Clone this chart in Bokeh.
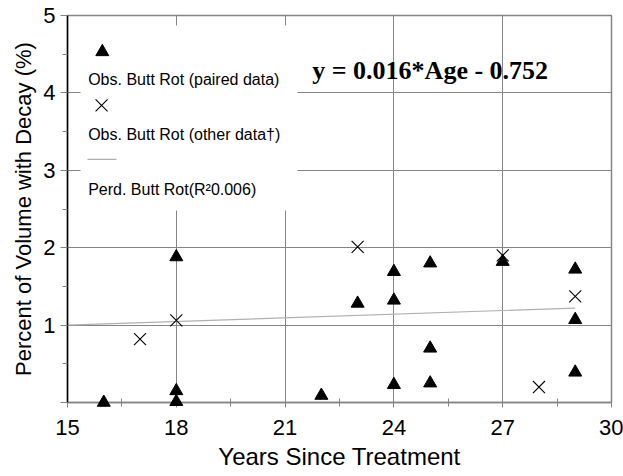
from bokeh.plotting import figure
from bokeh.models import Label, BoxAnnotation, FixedTicker, Range1d, Title
from bokeh.embed import file_html
from bokeh.resources import INLINE

# Observed butt rot, paired data (triangles)
paired_years = [16, 18, 18, 18, 22, 23, 24, 24, 24, 25, 25, 25, 27, 29, 29, 29]
paired_decay = [0.0, 1.88, 0.15, 0.01, 0.09, 1.28, 1.69, 1.32, 0.23, 1.80, 0.70, 0.25, 1.82, 1.72, 1.07, 0.39]

# Observed butt rot, other data (crosses)
other_years = [17, 18, 23, 27, 28, 29]
other_decay = [0.82, 1.06, 2.01, 1.90, 0.20, 1.37]

# Predicted butt rot line
fit_years = [15, 29]
fit_decay = [1.0, 1.22]

x_ticks = [15, 18, 21, 24, 27, 30]
y_ticks = [0, 1, 2, 3, 4, 5]

SANS = "Liberation Sans"
SERIF = "Liberation Serif"
GREY = "#858585"

p = figure(width=623, height=476, output_backend="svg", toolbar_location=None,
           x_range=Range1d(15, 30), y_range=Range1d(0, 5),
           min_border_left=67, min_border_right=12, min_border_top=15,
           min_border_bottom=74)
p.background_fill_color = "white"
p.border_fill_color = "white"
p.outline_line_color = GREY
p.outline_line_width = 1.5

# axes
p.xaxis.ticker = FixedTicker(ticks=x_ticks, minor_ticks=[16.5, 19.5, 22.5, 25.5, 28.5])
p.yaxis.ticker = FixedTicker(ticks=y_ticks, minor_ticks=[0.5, 1.5, 2.5, 3.5, 4.5])
p.yaxis.major_label_overrides = {0: ""}

p.xaxis.axis_label = "Years Since Treatment"
for ax in (p.xaxis, p.yaxis):
    ax.axis_label_text_font = SANS
    ax.axis_label_text_font_style = "normal"
    ax.axis_label_text_color = "black"
    ax.major_label_text_font = SANS
    ax.major_label_text_font_size = "22px"
    ax.major_label_text_color = "black"
    ax.major_tick_line_color = GREY
    ax.minor_tick_line_color = GREY

p.xaxis.axis_label_text_font_size = "24px"
p.xaxis.axis_line_color = GREY
p.xaxis.axis_line_width = 1.5
p.yaxis.axis_line_color = "black"
p.yaxis.axis_line_width = 1.5

p.xaxis.major_tick_in = 5
p.xaxis.major_tick_out = 5
p.xaxis.minor_tick_in = 4
p.xaxis.minor_tick_out = 4
p.xaxis.major_label_standoff = 12
p.xaxis.axis_label_standoff = 5

p.yaxis.major_tick_in = 0
p.yaxis.major_tick_out = 7
p.yaxis.minor_tick_in = 0
p.yaxis.minor_tick_out = 5
p.yaxis.major_label_standoff = 5

# y-axis title, set a little above the frame's middle
p.add_layout(Title(text="Percent of Volume with Decay (%)", align="center",
                   offset=13, standoff=10, text_font=SANS,
                   text_font_size="22px", text_font_style="normal",
                   text_color="black"), "left")

# grid
p.xgrid.ticker = FixedTicker(ticks=x_ticks)
p.ygrid.ticker = FixedTicker(ticks=y_ticks)
p.grid.grid_line_color = GREY
p.grid.grid_line_width = 1

# legend background
p.add_layout(BoxAnnotation(left=15.36, right=21.34, bottom=2.48, top=4.87,
                           fill_color="white", fill_alpha=1.0, line_color=None,
                           level="underlay"))

# predicted line
p.line(fit_years, fit_decay, line_color="#b0b0b0", line_width=1.2)

# observations
p.scatter(other_years, other_decay, marker="x", size=17, line_color="black",
          line_width=1.1)
p.scatter(paired_years, paired_decay, marker="triangle", size=13,
          fill_color="black", line_color="black", level="overlay")

# legend entries, marker above text
p.scatter([15.96], [4.53], marker="triangle", size=13, fill_color="black",
          line_color="black")
p.scatter([15.94], [3.84], marker="x", size=17, line_color="black", line_width=1.1)
p.line([15.55, 16.35], [3.14, 3.14], line_color="#b0b0b0", line_width=1.2)

legend_texts = ["Obs. Butt Rot (paired data)", "Obs. Butt Rot (other data\u2020)",
                "Perd. Butt Rot(R\u00b20.006)"]
for txt, yy in zip(legend_texts, [4.17, 3.465, 2.755]):
    p.add_layout(Label(x=15.57, y=yy, text=txt, text_font=SANS,
                       text_font_size="16px", text_color="black",
                       text_baseline="alphabetic", text_align="left"))

# regression equation
p.add_layout(Label(x=21.75, y=4.29, text="y = 0.016*Age - 0.752",
                   text_font=SERIF, text_font_style="bold",
                   text_font_size="26px", text_color="black",
                   text_baseline="alphabetic", text_align="left"))

open("out.html", "w").write(file_html(p, INLINE))
